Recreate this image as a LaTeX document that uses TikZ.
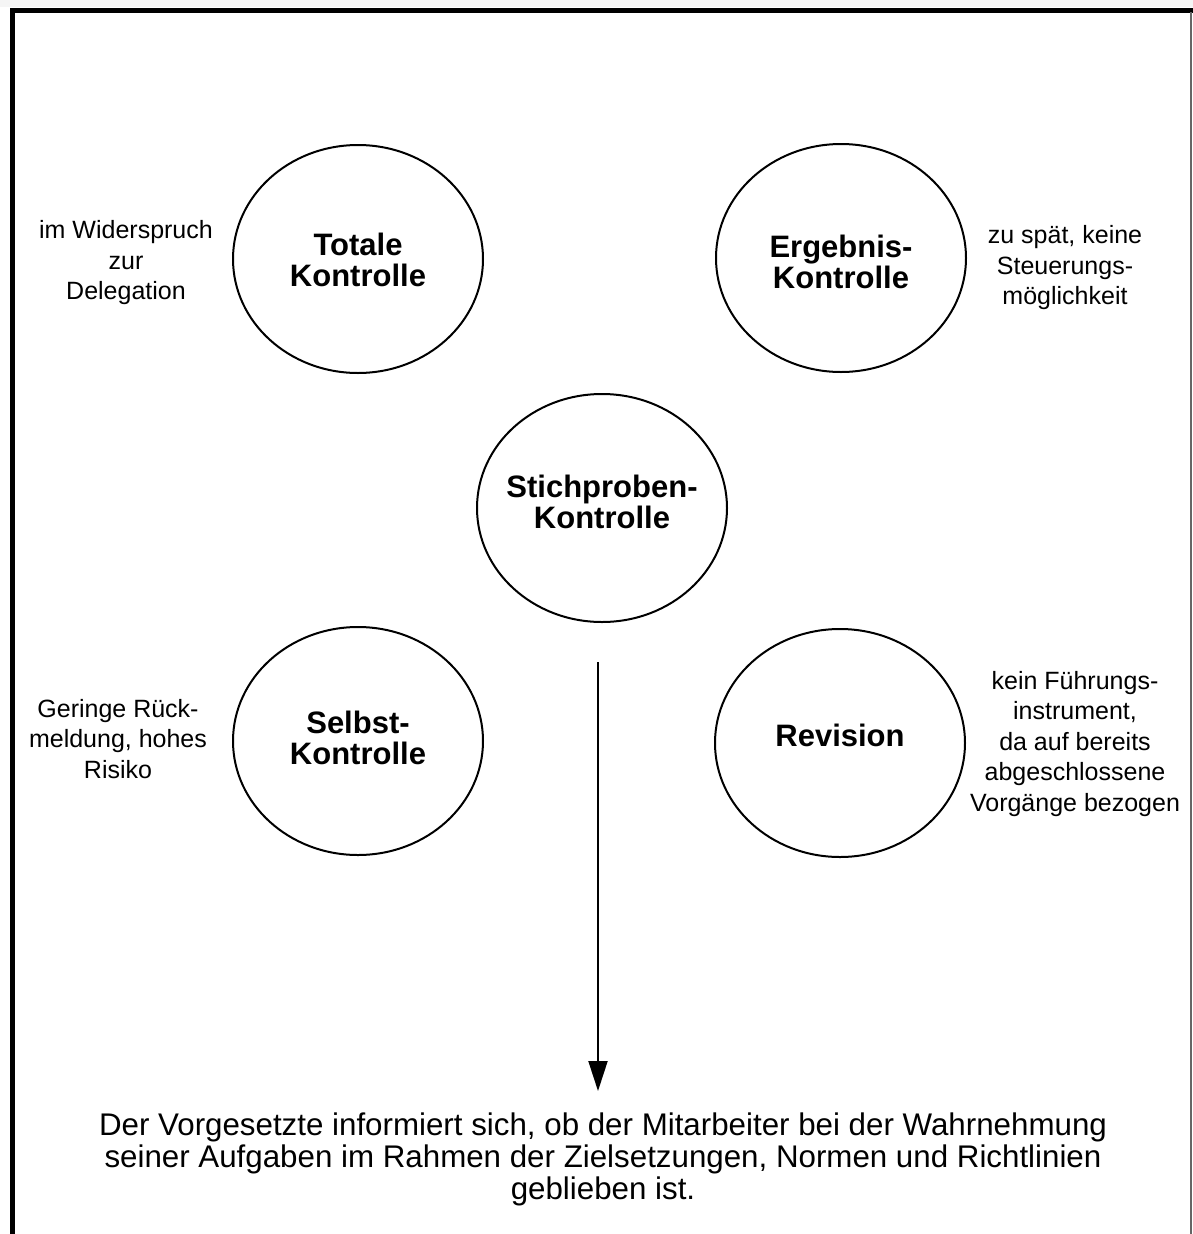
\documentclass[tikz,border=0pt]{standalone}
\usepackage{fontspec}
\setmainfont{Liberation Sans}
\usetikzlibrary{shapes.geometric,arrows.meta}
\tikzset{
  kreis/.style={draw=black, line width=2pt, ellipse, minimum width=250pt, minimum height=228pt, inner sep=0pt},
  kreistext/.style={align=center, inner sep=0pt, label distance=0pt, font=\fontsize{31}{31}\selectfont\bfseries},
  seitentext/.style={align=center, inner sep=0pt, font=\fontsize{25}{30.5}\selectfont},
  fusstext/.style={align=center, inner sep=0pt, font=\fontsize{31.3}{32}\selectfont},
  pfeil/.style={line width=2pt, -{Triangle[length=30pt,width=19pt]}},
  rahmen/.style={line width=5pt, line cap=butt},
  rahmenduenn/.style={line width=1.5pt, draw=black!60}
}
\begin{document}
\begin{tikzpicture}[x=1pt,y=-1pt]
\useasboundingbox (0,0) rectangle (1193,1234);
\fill[black!4] (0,0) rectangle (1193,7);
% frame
\coordinate (fl) at (12.5,1234);
\coordinate (ftl) at (12.5,10);
\coordinate (ftr) at (1193,10);
\coordinate (fr1) at (1191,12);
\coordinate (fr2) at (1191,1234);
\draw[rahmen] (fl) -- (ftl) -- (ftr);
\draw[rahmenduenn] (fr1) -- (fr2);
% circles
\node[kreis, label={[kreistext, yshift=-1pt]center:{Totale\\Kontrolle}}] (totale) at (358,259) {};
\node[kreis, label={[kreistext, yshift=-4pt]center:{Ergebnis-\\Kontrolle}}] (ergebnis) at (841,258) {};
\node[kreis, label={[kreistext, yshift=6pt]center:{Stichproben-\\Kontrolle}}] (stich) at (602,508) {};
\node[kreis, label={[kreistext, yshift=3pt]center:{Selbst-\\Kontrolle}}] (selbst) at (358,741) {};
\node[kreis, label={[kreistext, yshift=8pt]center:{Revision}}] (revision) at (840,743) {};
% side texts
\node[seitentext] (t1) at (126,263) {im Widerspruch\\zur\\Delegation};
\node[seitentext] (t2) at (1065,268) {zu sp\"at, keine\\Steuerungs-\\m\"oglichkeit};
\node[seitentext] (t3) at (118,739) {Geringe R\"uck-\\meldung, hohes\\Risiko};
\node[seitentext] (t4) at (1075,744) {kein F\"uhrungs-\\instrument,\\da auf bereits\\abgeschlossene\\Vorg\"ange bezogen};
% bottom text
\node[fusstext] (fuss) at (603,1159) {Der Vorgesetzte informiert sich, ob der Mitarbeiter bei der Wahrnehmung\\seiner Aufgaben im Rahmen der Zielsetzungen, Normen und Richtlinien\\geblieben ist.};
% arrow
\coordinate (pa) at (598,662);
\coordinate (pe) at (598,1091);
\draw[pfeil] (pa) -- (pe);
\end{tikzpicture}
\end{document}
